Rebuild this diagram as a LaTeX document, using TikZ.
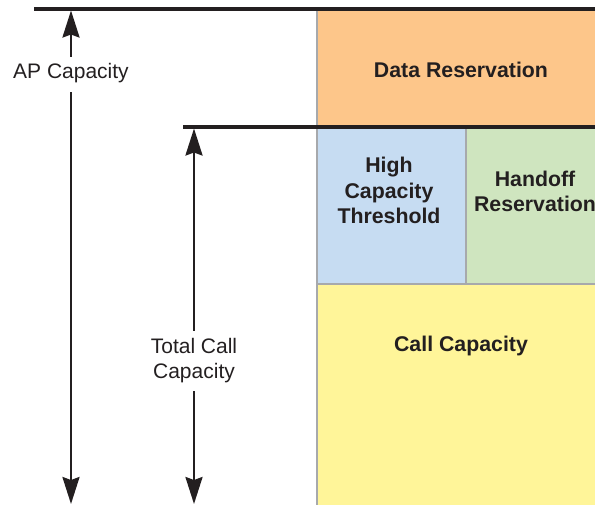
\documentclass[tikz,border=0pt]{standalone}
\usepackage{fontspec}
\setmainfont{Liberation Sans}
\usetikzlibrary{arrows.meta}
\definecolor{ink}{HTML}{231F20}
\definecolor{edge}{HTML}{A7A9AC}
\definecolor{dataorange}{HTML}{FDC68A}
\definecolor{hcblue}{HTML}{C6DCF2}
\definecolor{hogreen}{HTML}{CFE5BF}
\definecolor{callyellow}{HTML}{FFF599}
\begin{document}
\begin{tikzpicture}[x=1pt,y=-1pt,
  region/.style={draw=edge, line width=1.5pt},
  title/.style={font=\fontsize{21.3}{25.5}\selectfont\bfseries, text=ink, align=center, inner sep=0pt},
  dimlabel/.style={font=\fontsize{21}{25}\selectfont, text=ink, align=center, inner xsep=0pt},
  level/.style={draw=ink, line width=3.5pt},
  dimarrow/.style={draw=ink, line width=2.5pt, -{Stealth[length=27pt,width=17pt,inset=3pt]}}]
\useasboundingbox (0,0) rectangle (595,504);
% regions
\path[region, fill=dataorange] (317,9) rectangle (610,127);
\path[region, fill=hcblue] (317,127) rectangle (466,284);
\path[region, fill=hogreen] (466,127) rectangle (610,284);
\path[region, fill=callyellow] (317,284) rectangle (610,515);
% level lines
\coordinate (apL) at (34,9);
\coordinate (apR) at (600,9);
\coordinate (tcL) at (183,127);
\coordinate (tcR) at (600,127);
\draw[level] (apL) -- (apR);
\draw[level] (tcL) -- (tcR);
% region titles
\node[title, anchor=base] (data) at (461,77) {Data Reservation};
\node[title, anchor=center] (hct) at (389,190.5) {High\\Capacity\\Threshold};
\node[title, anchor=center] (hor) at (535,191.5) {Handoff\\Reservation};
\node[title, anchor=base] (call) at (461,351) {Call Capacity};
% dimension labels and arrows
\node[dimlabel, anchor=base, inner ysep=0pt, text height=21pt, text depth=14pt] (ap) at (71,78) {AP Capacity};
\coordinate (aptop) at (71,10.5);
\coordinate (apbot) at (71,504);
\draw[dimarrow] (ap.north) -- (aptop);
\draw[dimarrow] (ap.south) -- (apbot);
\node[dimlabel, anchor=center, inner ysep=8pt] (tc) at (194,361) {Total Call\\Capacity};
\coordinate (tctop) at (194,128.5);
\coordinate (tcbot) at (194,504);
\draw[dimarrow] (tc.north) -- (tctop);
\draw[dimarrow] (tc.south) -- (tcbot);
\end{tikzpicture}
\end{document}
